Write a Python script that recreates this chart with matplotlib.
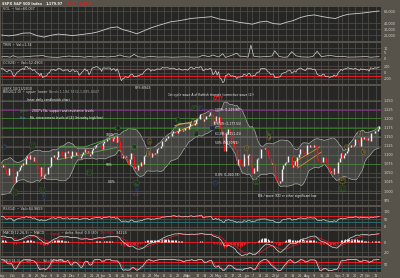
import numpy as np
import pandas as pd
import matplotlib
matplotlib.use("Agg")
import matplotlib.pyplot as plt

# ------------------------------------------------------------------ data
aug09 = [1026.13, 1025.57, 1028.00, 1028.12, 1030.98, 1028.93, 1020.62]
sep09 = [998.04, 994.75, 1003.24, 1016.40, 1025.39, 1033.37, 1044.14, 1042.73, 1049.34, 1052.63,
         1068.76, 1065.49, 1068.30, 1064.66, 1071.66, 1060.87, 1050.78, 1044.38, 1062.98, 1060.61, 1057.08]
oct09 = [1029.85, 1025.21, 1040.46, 1054.72, 1057.58, 1065.48, 1071.49, 1076.19, 1073.19, 1092.02, 1096.56,
         1087.68, 1097.91, 1091.06, 1081.40, 1092.91, 1079.60, 1066.95, 1063.41, 1042.63, 1066.11, 1036.19]
nov09 = [1042.88, 1045.41, 1046.50, 1066.63, 1069.30, 1093.08, 1093.01, 1098.51, 1087.24, 1093.48,
         1109.30, 1110.32, 1109.80, 1094.90, 1091.38, 1106.24, 1105.65, 1110.63, 1091.49, 1095.63]
dec09 = [1108.86, 1109.24, 1099.92, 1105.98, 1103.25, 1091.94, 1095.95, 1102.35, 1106.41, 1114.11, 1107.93,
         1109.18, 1096.08, 1102.47, 1114.05, 1118.02, 1120.59, 1126.48, 1127.78, 1126.20, 1126.42, 1115.10]
jan10 = [1132.99, 1136.52, 1137.14, 1141.69, 1144.98, 1146.98, 1136.22, 1145.68, 1148.46, 1136.03,
         1150.23, 1138.04, 1116.48, 1091.76, 1096.78, 1092.17, 1097.50, 1084.53, 1073.87]
feb10 = [1089.19, 1103.32, 1097.28, 1063.11, 1066.19, 1056.74, 1070.52, 1068.13, 1078.47, 1075.51,
         1094.87, 1099.51, 1106.75, 1109.17, 1108.01, 1094.60, 1105.24, 1102.94, 1104.49]
mar10 = [1115.71, 1118.31, 1118.79, 1122.97, 1138.70, 1138.50, 1140.45, 1145.61, 1150.24, 1149.99, 1150.51,
         1159.46, 1166.21, 1165.83, 1159.90, 1165.81, 1174.17, 1167.72, 1165.73, 1166.59, 1173.22, 1173.27, 1169.43]
apr10 = [1178.10, 1187.44, 1189.44, 1182.45, 1186.44, 1194.37, 1196.48, 1197.30, 1210.65, 1211.67, 1192.13,
         1197.52, 1207.17, 1205.94, 1208.67, 1217.28, 1212.05, 1183.71, 1191.36, 1206.78, 1186.69]
may10 = [1202.26, 1173.60, 1165.87, 1128.15, 1110.88, 1159.73, 1155.79, 1171.67, 1157.44, 1135.68,
         1136.94, 1120.80, 1115.05, 1071.59, 1087.69, 1073.65, 1074.03, 1067.95, 1103.06, 1089.41]
jun10 = [1070.71, 1098.38, 1102.83, 1064.88, 1050.47, 1062.00, 1055.69, 1086.84, 1091.60, 1089.63, 1115.23,
         1114.61, 1116.04, 1117.51, 1113.20, 1095.31, 1092.04, 1073.69, 1076.76, 1074.57, 1041.24, 1030.71]
jul10 = [1027.37, 1022.58, 1028.06, 1060.27, 1070.25, 1077.96, 1078.75, 1095.34, 1095.17, 1096.48, 1064.88,
         1071.25, 1083.48, 1069.59, 1093.67, 1102.66, 1115.01, 1113.84, 1106.13, 1101.53, 1101.60]
aug10 = [1125.86, 1120.46, 1127.24, 1125.81, 1121.64, 1127.79, 1121.06, 1089.47, 1083.61, 1079.25, 1079.38,
         1092.54, 1094.16, 1075.63, 1071.69, 1067.36, 1051.87, 1055.33, 1047.22, 1064.59, 1048.92, 1049.33]
sep10 = [1080.29, 1090.10, 1104.51, 1091.84, 1098.87, 1104.18, 1109.55, 1121.90, 1121.10, 1125.07, 1124.66,
         1125.59, 1142.71, 1139.78, 1134.28, 1124.83, 1148.67, 1142.16, 1147.70, 1144.73, 1141.20]
oct10 = [1146.24, 1137.03, 1160.75, 1159.97, 1158.06, 1165.15, 1165.32, 1169.77, 1178.10]

holidays = ["2009-09-07", "2009-11-26", "2009-12-25", "2010-01-01", "2010-01-18",
            "2010-02-15", "2010-04-02", "2010-05-31", "2010-07-05", "2010-09-06"]

vol_dates = ["2009-09-21", "2009-09-28", "2009-10-05", "2009-10-12", "2009-10-19", "2009-10-26",
             "2009-11-02", "2009-11-09", "2009-11-16", "2009-11-23", "2009-12-01", "2009-12-07",
             "2009-12-14", "2009-12-21", "2009-12-28", "2010-01-04", "2010-01-11", "2010-01-19",
             "2010-01-25", "2010-02-01", "2010-02-08", "2010-02-16", "2010-02-22", "2010-03-01",
             "2010-03-08", "2010-03-15", "2010-03-22", "2010-03-29", "2010-04-05", "2010-04-12",
             "2010-04-19", "2010-04-26", "2010-05-03", "2010-05-10", "2010-05-17", "2010-05-24",
             "2010-06-01", "2010-06-07", "2010-06-14", "2010-06-21", "2010-06-28", "2010-07-06",
             "2010-07-12", "2010-07-19", "2010-07-26", "2010-08-02", "2010-08-09", "2010-08-16",
             "2010-08-23", "2010-08-30", "2010-09-07", "2010-09-13", "2010-09-20", "2010-09-27",
             "2010-10-04", "2010-10-13"]
vol_vals = [20000, 18500, 20000, 23000, 23500, 19000, 16500, 19500, 21500, 20500, 19000, 20000,
            21500, 23000, 25000, 28000, 32000, 33500, 29000, 26000, 22000, 27000, 31000, 35000,
            38500, 42000, 43500, 45500, 47500, 48500, 49500, 50500, 47000, 45000, 43500, 41000,
            39500, 38000, 41500, 43000, 39000, 38000, 41000, 44000, 49000, 52000, 53500, 51000,
            49000, 47500, 52000, 54500, 55500, 56500, 58000, 60037]

trin_dates = ["2009-09-21", "2009-09-24", "2009-09-29", "2009-10-01", "2009-10-06", "2009-10-12",
              "2009-10-16", "2009-10-21", "2009-10-28", "2009-10-30", "2009-11-04", "2009-11-10",
              "2009-11-16", "2009-11-20", "2009-11-27", "2009-12-03", "2009-12-08", "2009-12-14",
              "2009-12-17", "2009-12-23", "2009-12-31", "2010-01-07", "2010-01-12", "2010-01-15",
              "2010-01-21", "2010-01-22", "2010-01-27", "2010-02-01", "2010-02-04", "2010-02-09",
              "2010-02-16", "2010-02-23", "2010-03-02", "2010-03-09", "2010-03-16", "2010-03-23",
              "2010-03-30", "2010-04-06", "2010-04-13", "2010-04-16", "2010-04-22", "2010-04-27",
              "2010-05-03", "2010-05-06", "2010-05-10", "2010-05-14", "2010-05-20", "2010-05-24",
              "2010-05-28", "2010-06-02", "2010-06-04", "2010-06-08", "2010-06-14", "2010-06-21",
              "2010-06-25", "2010-06-29", "2010-07-02", "2010-07-08", "2010-07-13", "2010-07-16",
              "2010-07-21", "2010-07-27", "2010-08-03", "2010-08-06", "2010-08-11", "2010-08-16",
              "2010-08-20", "2010-08-24", "2010-08-31", "2010-09-07", "2010-09-13", "2010-09-20",
              "2010-09-24", "2010-09-30", "2010-10-05", "2010-10-13"]
trin_vals = [1.1, 1.6, 0.8, 2.3, 0.9, 1.1, 1.5, 1.9, 2.2, 2.6, 1.2, 0.8, 0.7, 1.4, 2.0, 1.3, 1.5, 0.8,
             1.6, 0.9, 1.7, 1.0, 1.4, 1.8, 3.1, 2.4, 1.3, 0.9, 3.6, 1.2, 0.7, 1.6, 0.9, 1.1, 0.8, 1.0,
             1.2, 0.9, 1.0, 2.8, 1.3, 3.0, 1.0, 4.2, 0.6, 2.5, 4.8, 1.9, 1.5, 0.9, 13.0, 1.8, 1.1, 1.4,
             2.0, 7.2, 1.6, 0.8, 1.0, 6.4, 2.2, 1.1, 0.9, 1.5, 6.8, 1.4, 2.2, 2.6, 1.5, 1.7, 0.9, 1.0,
             1.2, 1.4, 0.8, 1.34]

tick_dates = ["2009-09-21", "2009-10-01", "2009-10-12", "2009-10-19", "2009-10-26", "2009-11-02",
              "2009-11-09", "2009-11-16", "2009-11-23", "2009-12-01", "2009-12-07", "2009-12-14",
              "2009-12-21", "2009-12-28", "2010-01-04", "2010-01-11", "2010-01-19", "2010-01-25",
              "2010-02-01", "2010-02-08", "2010-02-16", "2010-02-22", "2010-03-01", "2010-03-08",
              "2010-03-15", "2010-03-22", "2010-03-29", "2010-04-01", "2010-04-12", "2010-04-19",
              "2010-04-26", "2010-05-03", "2010-05-10", "2010-05-17", "2010-05-24", "2010-06-01",
              "2010-06-07", "2010-06-14", "2010-06-21", "2010-06-28", "2010-07-01", "2010-07-12",
              "2010-07-19", "2010-07-26", "2010-08-02", "2010-08-09", "2010-08-16", "2010-08-23",
              "2010-09-01", "2010-09-07", "2010-09-13", "2010-09-20", "2010-09-27", "2010-10-01",
              "2010-10-11"]
tick_labels = ["Sep", "Oct", "12", "19", "26", "Nov", "9", "16", "23", "Dec", "7", "14", "21", "28",
               "Jan", "11", "19", "25", "Feb", "8", "16", "22", "Mar", "8", "15", "22", "29", "Apr",
               "12", "19", "26", "May", "10", "17", "24", "Jun", "7", "14", "21", "28", "Jul", "12",
               "19", "26", "Aug", "9", "16", "23", "Sep", "7", "13", "20", "27", "Oct", "11"]

price_ticks = [975, 1000, 1025, 1050, 1075, 1100, 1125, 1150, 1175, 1200, 1225, 1250]
level_prices = [1247, 1222, 1200, 1173, 1148, 1121, 1074, 1038, 994]
level_kinds = ["green", "purple", "green", "green", "green", "blue", "green", "purple", "green"]

green_chan_dates = [["2009-11-16", "2009-12-14", "2010-01-19"], ["2009-11-16", "2010-01-19"]]
green_chan_prices = [[1121, 1121, 1152], [1086, 1120]]
orange_chan_dates = [["2010-07-21", "2010-08-13"], ["2010-07-22", "2010-08-16"]]
orange_chan_prices = [[1082, 1121], [1063, 1107]]
yellow_tri_dates = [["2010-03-18", "2010-04-12"], ["2010-03-18", "2010-04-12"]]
yellow_tri_prices = [[1180, 1193], [1160, 1186]]

wave_dates = ["2009-10-21", "2009-12-17", "2010-01-19", "2010-02-04", "2009-09-23", "2010-02-22",
              "2010-02-19", "2010-03-22", "2010-04-08", "2010-04-07", "2010-04-09", "2010-04-14",
              "2010-04-27", "2010-06-23", "2010-06-23", "2010-06-01", "2010-07-20", "2010-04-29",
              "2010-06-10", "2010-09-10", "2010-09-23", "2010-09-28", "2010-09-07", "2010-09-07",
              "2009-10-02", "2009-10-30", "2009-11-02", "2010-02-08", "2010-02-08"]
wave_prices = [1126, 1052, 1173, 1121, 1121, 1135, 1102, 1195, 1228, 1190, 1159, 1228,
               1173, 1162, 1146, 1118, 1088, 1022, 1025, 1121, 1157, 1107, 1030, 1008,
               995, 1003, 986, 1022, 1006]
wave_texts = ["[1]", "[2]", "[3]", "[4]", "C", "a", "b", "(i)", "(iii)", "c", "(ii)", "4",
              "(1)", "[B]", "a", "b", "c", "1", "[4]", "a", "c", "b", "(a)", "[5]",
              "[4]", "[1]", "v", "[4]", "v"]
wave_kinds = ["green", "green", "green", "green", "blue", "yellow", "yellow", "green", "green",
              "yellow", "green", "blue", "blue", "green", "yellow", "yellow", "yellow", "blue",
              "green", "yellow", "yellow", "yellow", "yellow", "green", "green", "green", "blue",
              "green", "blue"]

# ------------------------------------------------------------------ prep
dates = pd.bdate_range("2009-08-21", "2010-10-13")
dates = dates[~dates.isin(pd.to_datetime(holidays))]
closes = np.array(aug09 + sep09 + oct09 + nov09 + dec09 + jan10 + feb10 + mar10 +
                  apr10 + may10 + jun10 + jul10 + aug10 + sep10 + oct10)
assert len(dates) == len(closes), (len(dates), len(closes))
idx = np.arange(len(closes))


def pos(ds):
    return dates.searchsorted(pd.to_datetime(ds))


s = pd.Series(closes)
mid = s.rolling(20, min_periods=2).mean()
sd = s.rolling(20, min_periods=2).std(ddof=0)
bb_up, bb_lo = mid + 2 * sd, mid - 2 * sd

d = s.diff()
gain = d.clip(lower=0).ewm(alpha=1 / 14, adjust=False).mean()
loss = (-d.clip(upper=0)).ewm(alpha=1 / 14, adjust=False).mean()
rsi = 100 - 100 / (1 + gain / loss)

ema12 = s.ewm(span=12, adjust=False).mean()
ema26 = s.ewm(span=26, adjust=False).mean()
macd = ema12 - ema26
signal = macd.ewm(span=9, adjust=False).mean()
hist = macd - signal

sma20 = s.rolling(20, min_periods=5).mean()
mad = s.rolling(20, min_periods=5).apply(lambda x: np.abs(x - x.mean()).mean(), raw=True)
cci = (s - sma20) / (0.015 * mad)

lo14 = s.rolling(14, min_periods=1).min()
hi14 = s.rolling(14, min_periods=1).max()
kfast = 100 * (s - lo14) / (hi14 - lo14).replace(0, np.nan)
stoK = kfast.rolling(3, min_periods=1).mean()
stoD = stoK.rolling(3, min_periods=1).mean()

opens = np.r_[closes[0], closes[:-1]]
up = closes >= opens

# ------------------------------------------------------------------ style
W, H = 400, 278
BG = "#57534a"
PANEL = "#262624"
GRID = "#52514c"
TXT = "#d6d6d6"
RED = "#e01c24"
TEAL = "#2c6a6e"
KIND = {"green": "#3f8a30", "purple": "#8a3a88", "blue": "#3a5ea6", "yellow": "#c0ac38"}
FS = 2.4

X0, X1 = 1, 381
XL = (19.5, 289.4)
tick_pos = pos(tick_dates)

fig = plt.figure(figsize=(4, 2.78), dpi=100)
fig.patch.set_facecolor(BG)
renderer = fig.canvas.get_renderer()


def pax(y0, y1):
    return fig.add_axes([X0 / W, 1 - y1 / H, (X1 - X0) / W, (y1 - y0) / H])


def style(ax, ylim, yt, ytl):
    ax.set_facecolor(PANEL)
    ax.set_xlim(XL)
    ax.set_ylim(ylim)
    ax.set_xticks(tick_pos)
    ax.set_xticklabels([])
    ax.set_yticks(yt)
    ax.set_yticklabels(ytl)
    ax.yaxis.tick_right()
    ax.tick_params(axis="y", length=0, pad=2, labelsize=FS, labelcolor=TXT)
    ax.tick_params(axis="x", length=0)
    ax.grid(True, color=GRID, lw=0.5)
    ax.set_axisbelow(True)
    for sp in ax.spines.values():
        sp.set_visible(False)


def seq(x_px, y_px, parts, size=FS, gap=1.5, **kw):
    """Place consecutive text pieces left to right at pixel position."""
    x = x_px
    for txt, col in parts:
        t = fig.text(x / W, 1 - y_px / H, txt, color=col, fontsize=size, va="center",
                     ha="left", zorder=20, **kw)
        bb = t.get_window_extent(renderer=renderer)
        x += bb.width + gap


# title
seq(2, 4, [(r"\$SPX S&P 500 Index", "#f0f0f0"), ("1,179.97", "#f0f0f0"),
           ("-0.79", RED), ("-0.07%", RED)], size=2.5, gap=3, weight="bold")

# VOL panel
ax = pax(7, 41)
style(ax, (10000, 66667), [20000, 30000, 40000, 60000], ["20,000", "30,000", "40,000", "60,000"])
ax.plot(pos(vol_dates), vol_vals, color="#cfcfcf", lw=0.6)
seq(3, 9.5, [("VOL ~ Val=60,037", TXT)])

# TRIN panel
ax = pax(43, 59)
style(ax, (-1, 15), [0, 5, 10], ["0", "5", "10"])
ax.plot(pos(trin_dates), trin_vals, color="#cfcfcf", lw=0.5)
seq(3, 45, [("TRIN ~ Val=1.34", TXT)])

# CCI panel
ax = pax(61, 84)
style(ax, (-354, 354), [-200, 0, 200], ["-200", "0", "200"])
ax.axhline(100, color=RED, lw=0.8)
ax.axhline(-100, color=RED, lw=0.8)
ax.plot(idx, cci, color="#d0d0d0", lw=0.5)
seq(3, 63, [("CCI(20) ~ Val=12.4903", TXT)])

# main panel
MT, MB = 86, 205
ax = pax(MT, MB)
style(ax, (961.6, 1288.5), price_ticks, [f"{p:,}" for p in price_ticks])
ax.fill_between(idx, bb_lo, bb_up, color="#9a9a96", alpha=0.25, lw=0)
ax.plot(idx, bb_up, color="#a9a9a5", lw=0.5)
ax.plot(idx, bb_lo, color="#a9a9a5", lw=0.5)
for p, k in zip(level_prices, level_kinds):
    ax.axhline(p, color=KIND[k], lw=0.5, zorder=2)
for dl, pl in zip(green_chan_dates, green_chan_prices):
    ax.plot(pos(dl), pl, color="#52b040", lw=0.6, zorder=3)
for dl, pl in zip(orange_chan_dates, orange_chan_prices):
    ax.plot(pos(dl), pl, color="#d88a2a", lw=0.6, zorder=3)
for dl, pl in zip(yellow_tri_dates, yellow_tri_prices):
    ax.plot(pos(dl), pl, color="#d0bc40", lw=0.6, zorder=3)
ax.vlines(idx[up], opens[up], closes[up], color="#f2f2f2", lw=1.0, zorder=4)
ax.vlines(idx[~up], closes[~up], opens[~up], color="#ec1820", lw=1.0, zorder=4)
for dt, pr, tx, k in zip(wave_dates, wave_prices, wave_texts, wave_kinds):
    ax.text(pos([dt])[0], pr, tx, fontsize=2.0, color=KIND[k], ha="center", va="center", zorder=6,
            bbox=dict(boxstyle="square,pad=0.15", fc="#1c1c1a", ec=KIND[k], lw=0.3))

seq(3, 88, [(r"\$SPX 10/13/2010", TXT)])
seq(135, 88, [("RPS:8943", TXT)])
seq(3, 92, [("BB(20,2.0) ~ upper  lower", TXT), ("Band=1,194.7432,1,095.4047", "#a0a0a0")])
seq(27, 100, [("Inner daily candlestick chart", "#f4f4f4")], size=2.2)
seq(20, 111, [("green", KIND["green"]), ("2007's Fib. support and resistance levels", "#f4f4f4")],
    size=2.2, gap=3)
seq(20, 118, [("blue", "#5a86dc"), ("Fib. retracement levels of [4] (Intraday high/low)", "#f4f4f4")],
    size=2.2, gap=4)
seq(168, 95, [("1st cycle wave A of flattish triangle (corrective wave (2))", "#f4f4f4")], size=2.2)
seq(213, 98.5, [("(2)?", RED)], size=3.6, weight="bold")
fib_notes = [(110, "100% (1,219.80)"), (124, "76.4% (1,177.55)"), (134, "61.8% (1,151.41)"),
             (143, "50% (1,130.29)"), (175, "0.0% (1,040.78)")]
for yy, tx in fib_notes:
    seq(215, yy, [(tx, "#f4f4f4")], size=2.2)
for xx, yy, tx in [(106, 135, "100%"), (106, 165, "50%"), (108, 182, "0.0%")]:
    seq(xx, yy, [(tx, "#f4f4f4")], size=2.2)
seq(133, 195, [("(X,X)", KIND["purple"])], size=2.2)
seq(258, 196, [("Blk / wave (XX) or other significant low", "#f4f4f4")], size=2.2)

# RSI panel
ax = pax(207, 229)
style(ax, (-13.3, 133), [0, 50, 100], ["0", "50", "100"])
ax.axhline(70, color=RED, lw=0.7)
ax.axhline(30, color=TEAL, lw=0.7)
ax.plot(idx, rsi, color="#d0d0d0", lw=0.5)
seq(3, 209, [("RSI(14) ~ Val=64.9659", TXT)])

# MACD panel
ax = pax(231, 256)
style(ax, (-28, 22), [-20, 0], ["-20", "0"])
ax.axhline(0, color=RED, lw=0.7)
hp = hist.values
ax.vlines(idx[hp > 0], 0, hp[hp > 0], color="#e8e8e8", lw=0.8)
ax.vlines(idx[hp <= 0], hp[hp <= 0], 0, color="#e01c24", lw=0.8)
ax.plot(idx, signal, color=RED, lw=0.5)
ax.plot(idx, macd, color="#d8d8d8", lw=0.5)
seq(3, 233.5, [("MACD(12,26,9) ~ MACD", TXT), ("~ signal", RED), ("~ delta (hist) 0.0 (30)", TXT),
               ("13.8933,", RED), ("3.4224", TXT)])

# STO panel
ax = pax(258, 272)
style(ax, (-13.6, 113.6), [50], ["50"])
ax.axhline(80, color=RED, lw=0.7)
ax.axhline(20, color=TEAL, lw=0.7)
ax.plot(idx, stoD, color=RED, lw=0.5)
ax.plot(idx, stoK, color="#d8d8d8", lw=0.5)
seq(3, 260.5, [("STO(14,3) ~ %K", TXT), ("~ %D", RED), ("Val=80.5666,", TXT), ("82.7543", RED)])
ax.set_xticklabels(tick_labels)
ax.tick_params(axis="x", labelsize=FS, labelcolor=TXT, pad=1.2)

fig.savefig("out.png", dpi=100, facecolor=BG)
